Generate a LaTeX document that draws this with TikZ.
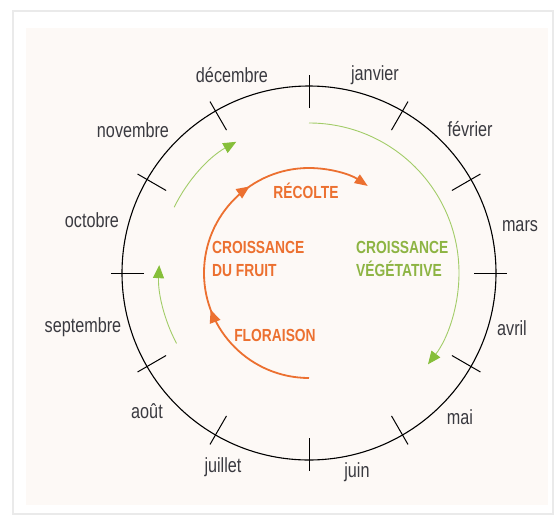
\documentclass[tikz,border=0pt]{standalone}
\usepackage{fontspec}
\setmainfont{Liberation Sans}
\newfontfamily\condfont{Liberation Sans}[FakeStretch=0.79]
\usetikzlibrary{arrows.meta,decorations.markings}
\definecolor{monthgray}{HTML}{3A3A40}
\definecolor{orng}{HTML}{EC7030}
\definecolor{grnline}{HTML}{A2CC68}
\definecolor{grnhead}{HTML}{86BF3A}
\definecolor{grntext}{HTML}{8DB443}
\definecolor{cream}{HTML}{FDF9F6}
\definecolor{framegray}{HTML}{EAEAEA}
\begin{document}
\begin{tikzpicture}[x=1pt,y=-1pt,
  month/.style={font=\condfont\fontsize{20.5}{22}\selectfont, text=monthgray, inner sep=0pt},
  phase/.style={font=\condfont\bfseries\fontsize{17.5}{23}\selectfont, inner sep=0pt, align=left},
  ticktick/.style={line width=1pt, draw=black},
  greenarc/.style={draw=grnline, line width=0.9pt, -{Triangle[length=13pt,width=11pt,fill=grnhead,color=grnhead]}},
  orangehead/.style={-{Triangle[length=13pt,width=10pt]}},
  orangearc/.style={draw=orng, line width=1.8pt, orangehead,
    postaction={decorate},
    decoration={markings,
      mark=at position 0.325 with {\arrow[orng]{Triangle[length=13pt,width=11pt]}},
      mark=at position 0.68 with {\arrow[orng]{Triangle[length=13pt,width=11pt]}}}}
]
\useasboundingbox (0,0) rectangle (555,520);
\fill[white] (0,0) rectangle (555,520);
\draw[framegray, line width=1.4pt] (13,11) rectangle (553,514);
\fill[cream] (26,28) rectangle (548,505);

\coordinate (c) at (309,273);
\draw[line width=1.1pt] (c) circle[radius=187];
\foreach \a in {0,30,...,330}
  \draw[ticktick] ([shift={(\a:165)}]c) -- ([shift={(\a:198)}]c);

\begin{scope}[shift={(309,273)}, yscale=-1]
  \draw[greenarc] (90:150) arc[start angle=90, end angle=-37.5, radius=150];
  \draw[greenarc] (208:150) arc[start angle=208, end angle=177, radius=150];
  \draw[greenarc] (154:150) arc[start angle=154, end angle=119, radius=150];
  \draw[orangearc] (270:105) arc[start angle=270, end angle=56, radius=105];
\end{scope}

\node[month] (jan) at (375,75) {janvier};
\node[month] (feb) at (470,129) {février};
\node[month] (mar) at (520,226) {mars};
\node[month] (apr) at (512,328) {avril};
\node[month] (may) at (460,417) {mai};
\node[month] (jun) at (357,472) {juin};
\node[month] (jul) at (223,467) {juillet};
\node[month] (aug) at (147,411) {août};
\node[month] (sep) at (83,327) {septembre};
\node[month] (oct) at (92,220) {octobre};
\node[month] (nov) at (133,130) {novembre};
\node[month] (dec) at (232,75) {décembre};

\node[phase, text=orng] (rec) at (306,191) {RÉCOLTE};
\node[phase, text=orng, anchor=west] (fruit) at (212,258.5) {CROISSANCE\\DU FRUIT};
\node[phase, text=orng] (flor) at (275,335) {FLORAISON};
\node[phase, text=grntext, anchor=west] (veg) at (356,258.5) {CROISSANCE\\VÉGÉTATIVE};
\end{tikzpicture}
\end{document}
